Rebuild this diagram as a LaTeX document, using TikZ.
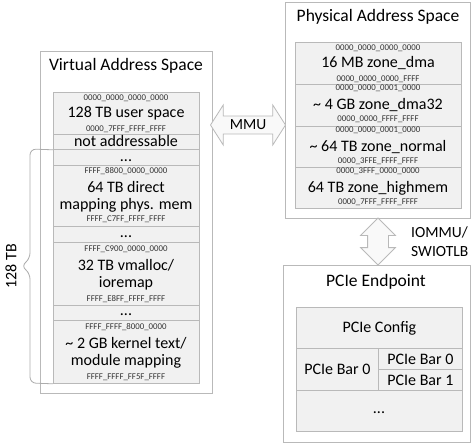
\documentclass[tikz,border=0pt]{standalone}
\usepackage{fontspec}
\setmainfont{Carlito}
\usepackage{tikz}
\usetikzlibrary{positioning}
\usetikzlibrary{shapes.arrows}
\usetikzlibrary{shadows}
\tikzset{
    region/.style={draw=gray!55, fill=white, line width=0.8pt, inner sep=0pt, anchor=north west,
        drop shadow={shadow xshift=0.9pt, shadow yshift=-0.9pt, opacity=0.3}},
    cell/.style={draw=gray!55, fill=gray!11, line width=0.8pt, inner sep=0pt, anchor=north west},
    title/.style={font=\fontsize{17.5}{20}\selectfont, inner sep=0pt},
    txt/.style={font=\fontsize{16}{18}\selectfont, inner sep=0pt},
    hex/.style={font=\fontsize{8.8}{9}\selectfont, inner sep=0pt, text=black!80},
    bigarrow/.style={double arrow, draw=gray!55, fill=gray!5, line width=0.8pt},
    bracket/.style={draw=gray!65, line width=0.8pt, rounded corners=6pt},
}

\begin{document}
\begin{tikzpicture}[x=1pt, y=-1pt]
	\useasboundingbox (0,0) rectangle (474,445);
	% virtual address space
	\node[region, minimum width=172pt, minimum height=342pt] (virt) at (40,51) {};
	\node[title] (virttitle) at (126,66) {Virtual Address Space};
	\node[cell, minimum width=146pt, minimum height=42pt] (user) at (53,92) {};
	\node[cell, minimum width=146pt, minimum height=15pt] (notaddr) at (53,134) {};
	\node[cell, minimum width=146pt, minimum height=16pt] (dotsa) at (53,149) {};
	\node[cell, minimum width=146pt, minimum height=61pt] (direct) at (53,165) {};
	\node[cell, minimum width=146pt, minimum height=16pt] (dotsb) at (53,226) {};
	\node[cell, minimum width=146pt, minimum height=63pt] (vmalloc) at (53,242) {};
	\node[cell, minimum width=146pt, minimum height=15pt] (dotsc) at (53,305) {};
	\node[cell, minimum width=146pt, minimum height=63pt] (kernel) at (53,320) {};
	\node[hex] (userlo) at (126,98) {0000\_0000\_0000\_0000};
	\node[txt] (usertxt) at (126,113) {128 TB user space};
	\node[hex] (userhi) at (126,129) {0000\_7FFF\_FFFF\_FFFF};
	\node[txt] (notaddrtxt) at (126,141) {not addressable};
	\node[txt] (dotsatxt) at (126,161) {...};
	\node[hex] (directlo) at (126,171) {FFFF\_8800\_0000\_0000};
	\node[txt] (directtxta) at (126,187) {64 TB direct};
	\node[txt] (directtxtb) at (126,205) {mapping phys. mem};
	\node[hex] (directhi) at (126,219) {FFFF\_C7FF\_FFFF\_FFFF};
	\node[txt] (dotsbtxt) at (126,237) {...};
	\node[hex] (vmalloclo) at (126,249) {FFFF\_C900\_0000\_0000};
	\node[txt] (vmalloctxta) at (126,265) {32 TB vmalloc/};
	\node[txt] (vmalloctxtb) at (126,283) {ioremap};
	\node[hex] (vmallochi) at (126,299) {FFFF\_E8FF\_FFFF\_FFFF};
	\node[txt] (dotsctxt) at (126,315) {...};
	\node[hex] (kernello) at (126,327) {FFFF\_FFFF\_8000\_0000};
	\node[txt] (kerneltxta) at (126,343) {\textasciitilde\ 2 GB kernel text/};
	\node[txt] (kerneltxtb) at (126,361) {module mapping};
	\node[hex] (kernelhi) at (126,377) {FFFF\_FFFF\_FF5F\_FFFF};
	% kernel half bracket
	\draw[bracket] (notaddr.south west) -- (30,149) -- (30,259) -- (21,266) -- (30,273) -- (30,383) -- (kernel.south west);
	\node[txt, rotate=90] (half) at (11,266) {128 TB};
	% physical address space
	\node[region, minimum width=185pt, minimum height=216pt] (phys) at (285,2) {};
	\node[title] (phystitle) at (378,17) {Physical Address Space};
	\node[cell, minimum width=166pt, minimum height=42pt] (dma) at (295,42) {};
	\node[cell, minimum width=166pt, minimum height=42pt] (dmathirtytwo) at (295,84) {};
	\node[cell, minimum width=166pt, minimum height=41pt] (normal) at (295,126) {};
	\node[cell, minimum width=166pt, minimum height=41pt] (highmem) at (295,167) {};
	\node[hex] (dmalo) at (378,48) {0000\_0000\_0000\_0000};
	\node[txt] (dmatxt) at (378,63) {16 MB zone\_dma};
	\node[hex] (dmahi) at (378,79) {0000\_0000\_0000\_FFFF};
	\node[hex] (dmathirtytwolo) at (378,88) {0000\_0000\_0001\_0000};
	\node[txt] (dmathirtytwotxt) at (378,105) {\textasciitilde\ 4 GB zone\_dma32};
	\node[hex] (dmathirtytwohi) at (378,119) {0000\_0000\_FFFF\_FFFF};
	\node[hex] (normallo) at (378,130) {0000\_0000\_0001\_0000};
	\node[txt] (normaltxt) at (378,147) {\textasciitilde\ 64 TB zone\_normal};
	\node[hex] (normalhi) at (378,161) {0000\_3FFE\_FFFF\_FFFF};
	\node[hex] (highmemlo) at (378,171) {0000\_3FFF\_0000\_0000};
	\node[txt] (highmemtxt) at (378,188) {64 TB zone\_highmem};
	\node[hex] (highmemhi) at (378,202) {0000\_7FFF\_FFFF\_FFFF};
	% pcie endpoint
	\node[region, minimum width=187pt, minimum height=177pt] (pcie) at (283,265) {};
	\node[title] (pcietitle) at (376,282) {PCIe Endpoint};
	\node[cell, minimum width=166pt, minimum height=41pt] (config) at (296,307) {};
	\node[cell, minimum width=82pt, minimum height=42pt] (barbig) at (296,348) {};
	\node[cell, minimum width=84pt, minimum height=21pt] (barzero) at (378,348) {};
	\node[cell, minimum width=84pt, minimum height=21pt] (barone) at (378,369) {};
	\node[cell, minimum width=166pt, minimum height=41pt] (rest) at (296,390) {};
	\node[txt] (configtxt) at (config) {PCIe Config};
	\node[txt] (barbigtxt) at (barbig) {PCIe Bar 0};
	\node[txt] (barzerotxt) at (barzero) {PCIe Bar 0};
	\node[txt] (baronetxt) at (barone) {PCIe Bar 1};
	\node[txt] (resttxt) at (379,413) {...};
	% translations
	\node[bigarrow, font=\fontsize{15.5}{18}\selectfont, inner xsep=0pt, inner ysep=3.5pt,
		minimum height=75pt, double arrow head extend=11pt, double arrow tip angle=115] (mmu) at (248,125) {MMU};
	\node[bigarrow, shape border rotate=90, inner xsep=10pt, inner ysep=10pt,
		minimum height=47pt, double arrow head extend=7pt] (iommu) at (378,241.5) {};
	\node[font=\fontsize{15.5}{19}\selectfont, inner sep=0pt, anchor=west, align=left] (iommutxt) at (411,242) {IOMMU/\\SWIOTLB};
\end{tikzpicture}
\end{document}
